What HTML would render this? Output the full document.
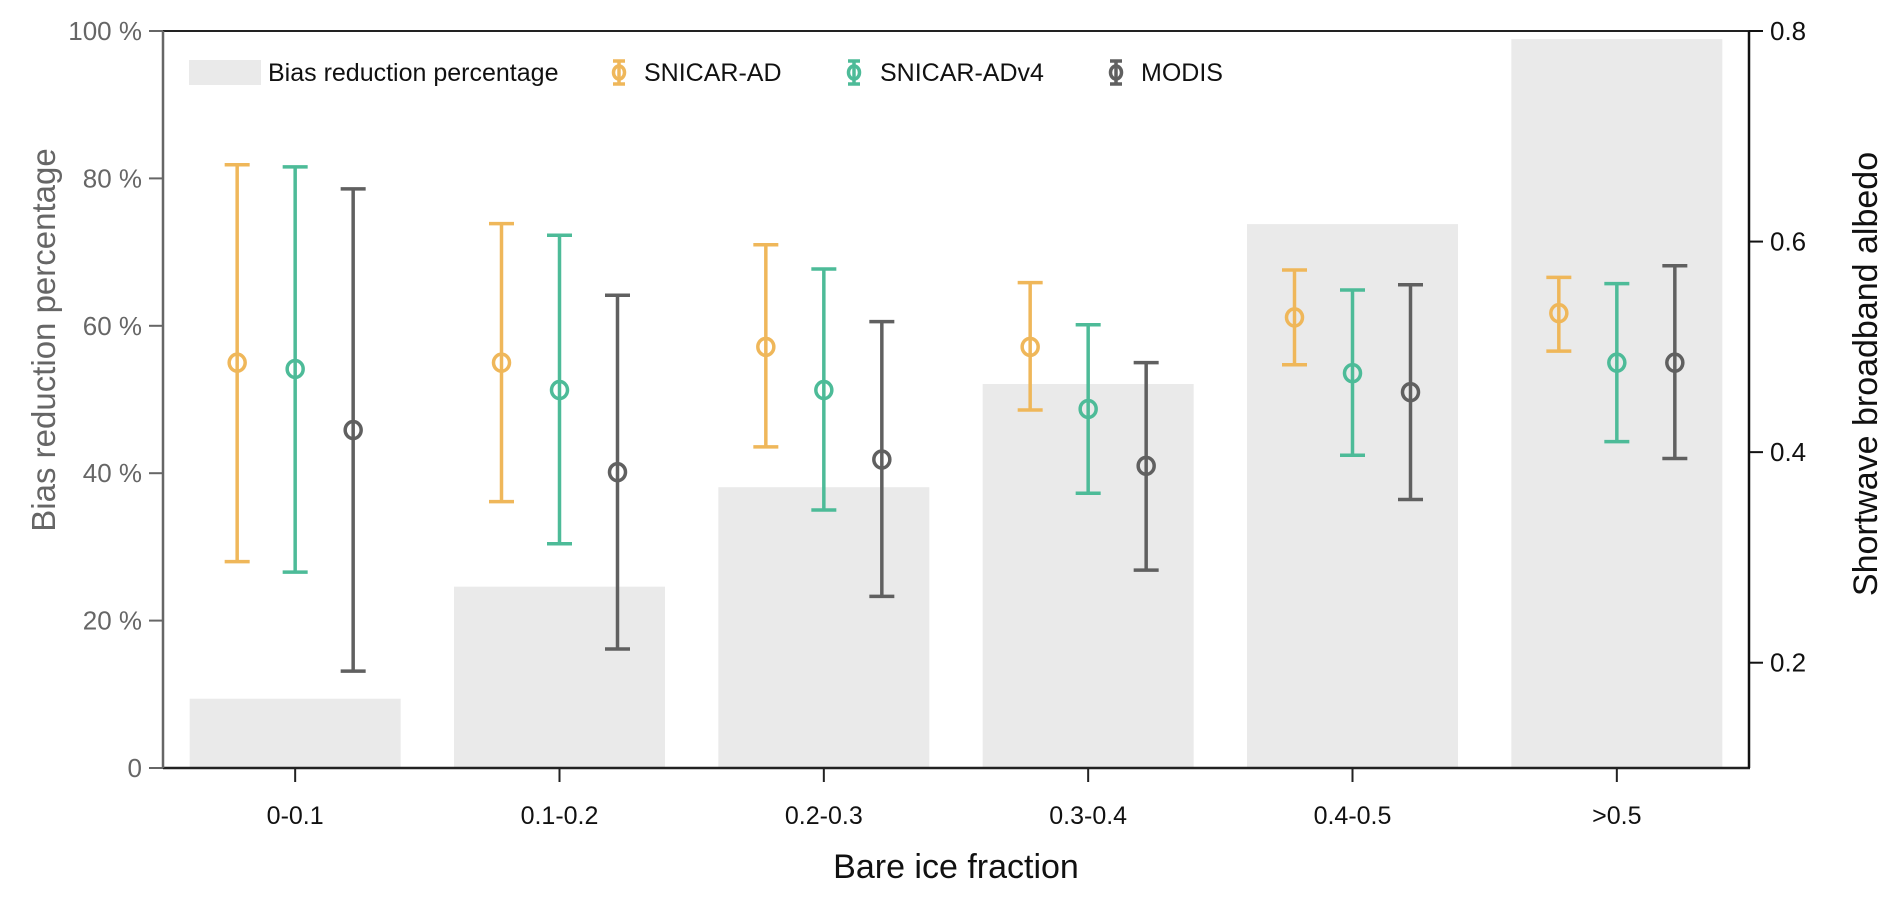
<!DOCTYPE html>
<html><head><meta charset="utf-8"><style>
html,body{margin:0;padding:0;background:#fff;}
svg text{font-family:"Liberation Sans",Arial,sans-serif;}
</style></head><body>
<svg id="chart" width="1892" height="899" xmlns="http://www.w3.org/2000/svg"></svg>
<script>
const categories=["0-0.1","0.1-0.2","0.2-0.3","0.3-0.4","0.4-0.5",">0.5"];
const biasPct=[9.4,24.6,38.1,52.1,73.8,98.9];
const adMean=[0.485,0.485,0.500,0.500,0.528,0.532];
const adLow=[0.296,0.353,0.405,0.440,0.483,0.496];
const adHigh=[0.673,0.617,0.597,0.561,0.573,0.566];
const v4Mean=[0.479,0.459,0.459,0.441,0.475,0.485];
const v4Low=[0.286,0.313,0.345,0.361,0.397,0.410];
const v4High=[0.671,0.606,0.574,0.521,0.554,0.560];
const mdMean=[0.421,0.381,0.393,0.387,0.457,0.485];
const mdLow=[0.192,0.213,0.263,0.288,0.355,0.394];
const mdHigh=[0.650,0.549,0.524,0.485,0.559,0.577];
const leftTicks=[0,20,40,60,80,100];
const rightTicks=[0.2,0.4,0.6,0.8];

const NS="http://www.w3.org/2000/svg";
const svg=document.getElementById('chart');
const L=163,R=1749,T=31,B=768;
const step=(R-L)/categories.length;
const xc=i=>L+step*(i+0.5);
const yL=p=>B-(p/100)*(B-T);
const yR=v=>B-(v-0.1)/0.7*(B-T);
function mk(tag,attrs,parent){const e=document.createElementNS(NS,tag);for(const k in attrs)e.setAttribute(k,attrs[k]);(parent||svg).appendChild(e);return e;}

biasPct.forEach((p,i)=>{
  const r=mk('rect',{x:xc(i)-105.5,y:yL(p),width:211,height:B-yL(p),fill:'#eaeaea'});
  
  
});

const series=[
 {name:'snicar-ad',color:'#efb75a',off:-58,m:adMean,lo:adLow,hi:adHigh},
 {name:'snicar-adv4',color:'#4dbb98',off:0,m:v4Mean,lo:v4Low,hi:v4High},
 {name:'modis',color:'#606060',off:58,m:mdMean,lo:mdLow,hi:mdHigh}
];
series.forEach(s=>{
  s.m.forEach((v,i)=>{
    const x=xc(i)+s.off;
    const g=mk('g',{});
    
    
    mk('line',{x1:x,x2:x,y1:yR(s.hi[i]),y2:yR(s.lo[i]),stroke:s.color,'stroke-width':3.5},g);
    mk('line',{x1:x-12.5,x2:x+12.5,y1:yR(s.hi[i]),y2:yR(s.hi[i]),stroke:s.color,'stroke-width':3.5},g);
    mk('line',{x1:x-12.5,x2:x+12.5,y1:yR(s.lo[i]),y2:yR(s.lo[i]),stroke:s.color,'stroke-width':3.5},g);
    mk('ellipse',{cx:x,cy:yR(v),rx:8,ry:8.5,fill:'none',stroke:s.color,'stroke-width':3.5},g);
  });
});

mk('line',{x1:L,x2:R,y1:T,y2:T,stroke:'#222','stroke-width':2});
mk('line',{x1:L,x2:R+1,y1:B,y2:B,stroke:'#222','stroke-width':2.5});
mk('line',{x1:R,x2:R,y1:T,y2:B,stroke:'#111','stroke-width':2.5});
const la=mk('line',{x1:L,x2:L,y1:T,y2:B,stroke:'#666','stroke-width':2.5});


leftTicks.forEach(t=>{
  mk('line',{x1:L-14,x2:L,y1:yL(t),y2:yL(t),stroke:'#666','stroke-width':2});
  const tx=mk('text',{x:L-21,y:yL(t)+9,'text-anchor':'end','font-size':26,fill:'#666'});
  tx.textContent=t===0?'0':t+' %';
  
  
});
rightTicks.forEach(t=>{
  mk('line',{x1:R,x2:R+14,y1:yR(t),y2:yR(t),stroke:'#111','stroke-width':2});
  const tx=mk('text',{x:R+21,y:yR(t)+9,'font-size':26,fill:'#111'});
  tx.textContent=t.toFixed(1);
  
  
});
categories.forEach((c,i)=>{
  mk('line',{x1:xc(i),x2:xc(i),y1:B,y2:B+14,stroke:'#222','stroke-width':2});
  const tx=mk('text',{x:xc(i),y:824,'text-anchor':'middle','font-size':25,fill:'#111'});
  tx.textContent=c;
  
  
});
</script>
<svg width="1892" height="899" style="position:absolute;left:0;top:0" xmlns="http://www.w3.org/2000/svg">
<text x="956" y="878" text-anchor="middle" font-size="34" fill="#111">Bare ice fraction</text>
<text transform="translate(55,340) rotate(-90)" text-anchor="middle" font-size="33" fill="#666">Bias reduction percentage</text>
<text transform="translate(1877,374) rotate(-90)" text-anchor="middle" font-size="34" fill="#111">Shortwave broadband albedo</text>
<g>
 <g>
  <rect x="189" y="60" width="72" height="25" fill="#eaeaea"/>
  <text x="268" y="81" font-size="25" fill="#111">Bias reduction percentage</text>
 </g>
 <g stroke="#efb75a" stroke-width="3.5" fill="none">
  <line x1="619" y1="61" x2="619" y2="84"/><line x1="613" y1="61" x2="625" y2="61"/><line x1="613" y1="84" x2="625" y2="84"/><ellipse cx="619" cy="72.5" rx="5.5" ry="6.5"/>
 </g>
 <text x="644" y="81" font-size="25" fill="#111">SNICAR-AD</text>
 <g stroke="#4dbb98" stroke-width="3.5" fill="none">
  <line x1="854" y1="61" x2="854" y2="84"/><line x1="848" y1="61" x2="860" y2="61"/><line x1="848" y1="84" x2="860" y2="84"/><ellipse cx="854" cy="72.5" rx="5.5" ry="6.5"/>
 </g>
 <text x="880" y="81" font-size="25" fill="#111">SNICAR-ADv4</text>
 <g stroke="#606060" stroke-width="3.5" fill="none">
  <line x1="1116" y1="61" x2="1116" y2="84"/><line x1="1110" y1="61" x2="1122" y2="61"/><line x1="1110" y1="84" x2="1122" y2="84"/><ellipse cx="1116" cy="72.5" rx="5.5" ry="6.5"/>
 </g>
 <text x="1141" y="81" font-size="25" fill="#111">MODIS</text>
</g>
</svg>
</body></html>
